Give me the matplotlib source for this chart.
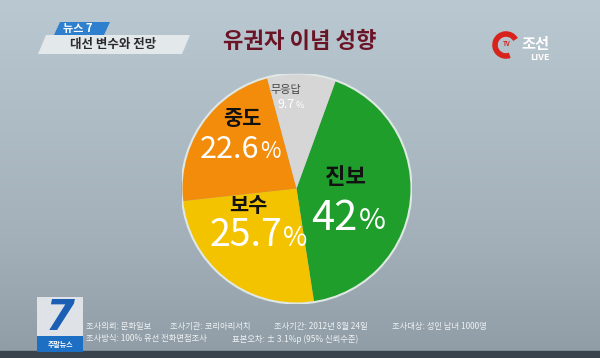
import matplotlib
matplotlib.use("Agg")
import matplotlib.pyplot as plt
import numpy as np
from matplotlib.patches import Polygon, Rectangle, Circle, Arc
from matplotlib.colors import LinearSegmentedColormap

plt.rcParams['font.family'] = ['Noto Sans CJK KR', 'DejaVu Sans']

# ---- data ----
title = "유권자 이념 성향"
categories = ["진보", "보수", "중도", "무응답"]
values = [42, 25.7, 22.6, 9.7]
value_labels = ["42", "25.7", "22.6", "9.7"]
colors = ["#1f9e2b", "#f3c300", "#f28c0a", "#d6d6d6"]
badge_top = "뉴스 7"
badge_sub = "대선 변수와 전망"
footnote1 = ["조사의뢰: 문화일보", "조사기관: 코리아리서치", "조사기간: 2012년 8월 24일", "조사대상: 성인 남녀 1000명"]
footnote2 = ["조사방식: 100% 유선 전화면접조사", "표본오차: ± 3.1%p (95% 신뢰수준)"]

W, H = 600, 358
fig = plt.figure(figsize=(W / 100, H / 100), dpi=100)

def P(x, y):
    return (x / W, 1 - y / H)

# ---- background ----
bg = fig.add_axes([0, 0, 1, 1])
bg.set_xlim(0, W)
bg.set_ylim(H, 0)
bg.axis('off')
cmap = LinearSegmentedColormap.from_list('bg', ['#bac8d1', '#aebcc6', '#a3b0ba', '#909ca5'])
grad = np.linspace(0, 1, 256).reshape(-1, 1)
bg.imshow(grad, cmap=cmap, extent=[0, W, H, 0], aspect='auto', zorder=0)
bg.add_patch(Rectangle((0, 351), W, 7, color='#39434d', zorder=1))

# top-left badges
bg.add_patch(Polygon([[46, 35], [190, 35], [182, 54], [38, 54]], closed=True,
                     facecolor='#e3e8eb', edgecolor='none', zorder=2))
bg.add_patch(Polygon([[60, 22], [110, 22], [104, 35], [54, 35]], closed=True,
                     facecolor='#2f7fcf', edgecolor='none', zorder=3))
bg.text(78, 28.5, badge_top, color='white', fontsize=8, fontweight='bold',
        ha='center', va='center', zorder=4)
bg.text(113, 44.5, badge_sub, color='#2a2a2a', fontsize=9, fontweight='bold',
        ha='center', va='center', zorder=4)

# title
bg.text(300, 41, title, color='#6b1426', fontsize=16, fontweight='bold',
        ha='center', va='center', zorder=4)

# logo
bg.add_patch(Arc((506, 45), 22, 22, theta1=70, theta2=330, color='#d8221c', lw=4, zorder=4))
bg.text(507, 43, "TV", color='#d8221c', fontsize=4.5, fontweight='bold', ha='center', va='center', zorder=5)
bg.text(535, 44, "조선", color='white', fontsize=11, fontweight='bold', ha='center', va='center', zorder=5)
bg.text(540, 57, "LIVE", color='white', fontsize=6.5, fontstyle='italic', fontweight='bold',
        ha='center', va='center', zorder=5)

# bottom-left logo
bg.add_patch(Rectangle((37, 297), 46, 40, facecolor='#dfe3e8', edgecolor='none', zorder=2))
bg.add_patch(Rectangle((37, 336), 46, 16, facecolor='#1d6fc4', edgecolor='none', zorder=2))
bg.text(60, 318, "7", color='#1a5fb4', fontsize=30, fontweight='bold', fontstyle='italic',
        ha='center', va='center', zorder=3, family='DejaVu Sans')
bg.text(60, 344, "주말뉴스", color='white', fontsize=5, fontweight='bold', ha='center', va='center', zorder=3)

# footnotes
for txt, x in zip(footnote1, [86, 170, 274, 392]):
    bg.text(x, 326, txt, color='#eef2f4', fontsize=6, ha='left', va='center', zorder=3)
for txt, x in zip(footnote2, [86, 232]):
    bg.text(x, 339, txt, color='#eef2f4', fontsize=6, ha='left', va='center', zorder=3)

# ---- pie ----
cx, cy, r = 296.5, 188.5, 115
ax = fig.add_axes([(cx - r) / W, 1 - (cy + r) / H, 2 * r / W, 2 * r / H])
wedges, _ = ax.pie(values, colors=colors, startangle=90 - 20, counterclock=False, radius=1,
                   wedgeprops=dict(edgecolor='none', linewidth=0))
ax.add_patch(Circle((0, 0), 1, fill=False, edgecolor='#dfe8e4', lw=1.5))
ax.set_xlim(-1, 1)
ax.set_ylim(-1, 1)
ax.set_aspect('auto')
ax.axis('off')

# labels (pixel positions)
cat_pos = [(345, 178), (248, 205), (242, 118), (286, 90)]
cat_size = [16, 15, 15, 8]
cat_weight = ['bold', 'bold', 'bold', 'medium']
cat_color = ['#111111', '#111111', '#111111', '#444444']
num_pos = [(358, 219), (282, 236), (259, 150), (295, 105)]
num_size = [30, 27, 22, 9]
pct_size = [21, 19, 16, 6.5]
for i in range(len(categories)):
    x, y = cat_pos[i]
    fig.text(*P(x, y), categories[i], color=cat_color[i], fontsize=cat_size[i],
             fontweight=cat_weight[i], ha='center', va='center', zorder=10)
    x, y = num_pos[i]
    fig.text(*P(x, y), value_labels[i], color='white', fontsize=num_size[i],
             fontweight='medium', ha='right', va='center', zorder=10)
    fig.text(*P(x + 1, y + num_size[i] * 0.08), "%", color='white', fontsize=pct_size[i],
             fontweight='light', ha='left', va='center', zorder=10)

fig.savefig("out.png", dpi=100)
